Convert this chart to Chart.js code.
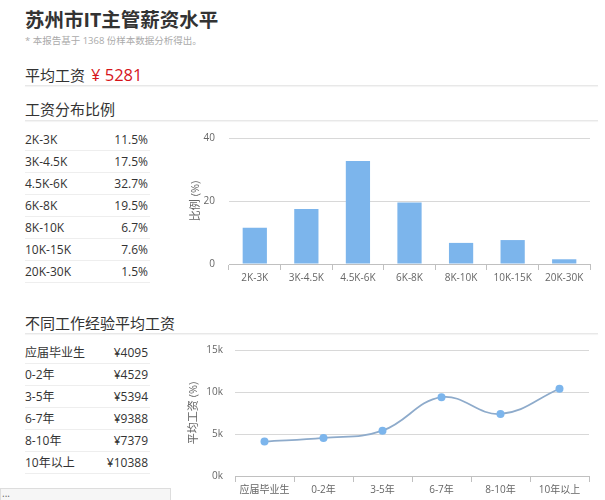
<!DOCTYPE html>
<html>
<head>
<meta charset="utf-8">
<script src="https://cdn.jsdelivr.net/npm/chart.js@4.4.1/dist/chart.umd.min.js"></script>
<style>
  body { margin: 0; width: 605px; height: 500px; overflow: hidden; background: #fff;
         font-family: "Open Sans", "Noto Sans CJK SC", sans-serif; color: #333; position: relative; }
  .abs { position: absolute; white-space: nowrap; }
  #title { left: 25px; top: 6px; font-size: 19.5px; font-weight: bold; color: #333; line-height: 28px; }
  #note { left: 25px; top: 34px; font-size: 9.5px; color: #aaa; line-height: 14px; }
  #avg { left: 25px; top: 65px; font-size: 15px; color: #333; line-height: 20px; }
  #avg span { color: #d6141b; margin-left: 6px; font-size: 16.5px; }
  .head { left: 25px; font-size: 15px; color: #333; line-height: 20px; }
  .rule { position: absolute; left: 25px; width: 573px; height: 1px; background: #e8e8e8;
          box-shadow: 0 1px 1px #f2f2f2; }
  .row { position: absolute; left: 25px; width: 125px; height: 21px; font-size: 12px; line-height: 21px;
         border-bottom: 1px solid #eee; color: #333; }
  .row b { font-weight: normal; position: absolute; right: 2px; top: 0; }
  canvas { position: absolute; }
  #more { left: 0; top: 488px; width: 168px; height: 20px; border: 1px solid #ddd; background: #f6f6f6;
          font-size: 10px; color: #666; line-height: 8px; padding-left: 1px; }
</style>
</head>
<body>
<div class="abs" id="title">苏州市IT主管薪资水平</div>
<div class="abs" id="note">* 本报告基于 1368 份样本数据分析得出。</div>
<div class="abs" id="avg">平均工资<span>¥ 5281</span></div>
<div class="rule" style="top:85px"></div>
<div class="abs head" style="top:99px">工资分布比例</div>
<div class="rule" style="top:120px"></div>
<div id="bandRows"></div>
<canvas id="barChart" width="418" height="174" style="left:180px;top:118px"></canvas>
<div class="abs head" style="top:313px">不同工作经验平均工资</div>
<div class="rule" style="top:333px"></div>
<div id="expRows"></div>
<canvas id="lineChart" width="418" height="168" style="left:180px;top:332px"></canvas>
<div class="abs" id="more">...</div>

<script>
// 工资分布比例
const salaryBands = ['2K-3K', '3K-4.5K', '4.5K-6K', '6K-8K', '8K-10K', '10K-15K', '20K-30K'];
const bandShares = [11.5, 17.5, 32.7, 19.5, 6.7, 7.6, 1.5];
const shareTicks = [0, 20, 40];

// 不同工作经验平均工资
const expLevels = ['应届毕业生', '0-2年', '3-5年', '6-7年', '8-10年', '10年以上'];
const expSalaries = [4095, 4529, 5394, 9388, 7379, 10388];
const salaryTicks = [0, 5000, 10000, 15000];

Chart.defaults.font.family = '"Open Sans", "Noto Sans CJK SC", sans-serif';

function fillRows(boxId, top, labels, texts) {
  const box = document.getElementById(boxId);
  labels.forEach((lab, i) => {
    const d = document.createElement('div');
    d.className = 'row';
    d.style.top = (top + i * 22) + 'px';
    d.innerHTML = lab + '<b>' + texts[i] + '</b>';
    box.appendChild(d);
  });
}
fillRows('bandRows', 129, salaryBands, bandShares.map(v => v.toFixed(1) + '%'));
fillRows('expRows', 342, expLevels, expSalaries.map(v => '¥' + v));

const axisGray = '#c0c0c0';
const gridGray = '#d8d8d8';

new Chart(document.getElementById('barChart'), {
  type: 'bar',
  data: {
    labels: salaryBands,
    datasets: [{ data: bandShares, backgroundColor: '#7cb5ec', barPercentage: 0.47, categoryPercentage: 1 }]
  },
  options: {
    responsive: false,
    animation: false,
    layout: { padding: { top: 0, right: 8 } },
    plugins: { legend: { display: false }, tooltip: { enabled: false } },
    scales: {
      x: {
        grid: { offset: true, drawOnChartArea: false, tickLength: 6, color: axisGray },
        border: { color: axisGray },
        ticks: { color: '#666', font: { size: 10 }, padding: 2, maxRotation: 0 },
        afterFit: s => { s.height = 28; }
      },
      y: {
        min: shareTicks[0],
        max: shareTicks[shareTicks.length - 1],
        afterBuildTicks: s => { s.ticks = shareTicks.map(v => ({ value: v })); },
        grid: { color: gridGray, drawTicks: false },
        border: { display: false },
        ticks: { color: '#666', font: { size: 10 }, padding: 14 },
        title: { display: true, text: '比例 (%)', color: '#666', font: { size: 11 }, padding: { top: 9, bottom: 0 } },
        afterFit: s => { s.width = 49; }
      }
    }
  }
});

new Chart(document.getElementById('lineChart'), {
  type: 'line',
  data: {
    labels: expLevels,
    datasets: [{
      data: expSalaries,
      borderColor: '#8eabcb',
      backgroundColor: '#7cb5ec',
      borderWidth: 1.8,
      pointRadius: 4,
      pointBorderWidth: 0,
      tension: 0.4,
      fill: false
    }]
  },
  options: {
    responsive: false,
    animation: false,
    layout: { padding: { top: 5, right: 9 } },
    plugins: { legend: { display: false }, tooltip: { enabled: false } },
    scales: {
      x: {
        offset: true,
        grid: { offset: true, drawOnChartArea: false, tickLength: 6, color: axisGray },
        border: { color: axisGray },
        ticks: { color: '#666', font: { size: 10 }, padding: 2, maxRotation: 0 },
        afterFit: s => { s.height = 24; }
      },
      y: {
        min: salaryTicks[0],
        max: salaryTicks[salaryTicks.length - 1],
        afterBuildTicks: s => { s.ticks = salaryTicks.map(v => ({ value: v })); },
        grid: { color: gridGray, drawTicks: false },
        border: { display: false },
        ticks: { color: '#666', font: { size: 10 }, padding: 12, callback: v => (v / 1000) + 'k' },
        title: { display: true, text: '平均工资 (%)', color: '#666', font: { size: 11 }, padding: { top: 7, bottom: 0 } },
        afterFit: s => { s.width = 55; }
      }
    }
  }
});
</script>
</body>
</html>
